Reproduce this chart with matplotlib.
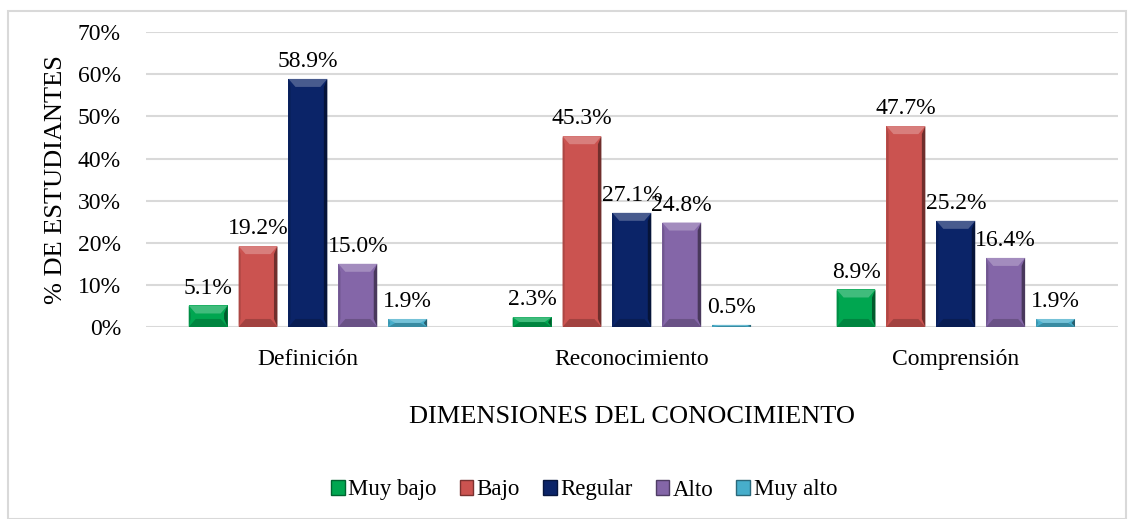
import numpy as np
import matplotlib.pyplot as plt
from matplotlib.patches import Polygon, Rectangle, Patch
from matplotlib.colors import to_rgb

plt.rcParams['font.family'] = ['Liberation Serif', 'DejaVu Serif']

categorias = ['Definición', 'Reconocimiento', 'Comprensión']
niveles = ['Muy bajo', 'Bajo', 'Regular', 'Alto', 'Muy alto']
muy_bajo = [5.1, 2.3, 8.9]
bajo = [19.2, 45.3, 47.7]
regular = [58.9, 27.1, 25.2]
alto = [15.0, 24.8, 16.4]
muy_alto = [1.9, 0.5, 1.9]
series = [muy_bajo, bajo, regular, alto, muy_alto]
colores = ['#00A650', '#CB5350', '#0B2468', '#8466A8', '#47AECB']


def shade(c, f):
    r = np.array(to_rgb(c))
    if f > 1:
        return tuple(r + (1 - r) * (f - 1))
    return tuple(r * f)


fig = plt.figure(figsize=(11.34, 5.19), dpi=100)
fig.patches.append(Rectangle((8 / 1134, 0), 1118 / 1134, 1 - 11 / 519, transform=fig.transFigure,
                             fill=False, edgecolor='#D9D9D9', linewidth=1.5))
ax = fig.add_axes([0.1287, 0.370, 0.857, 0.568])

x = np.arange(len(categorias))
paso = 0.154
ancho = 0.12
ax.set_ylim(0, 70)
ax.set_xlim(-0.5, 2.5)

for i, (vals, col) in enumerate(zip(series, colores)):
    pos = x + (i - 2) * paso
    bars = ax.bar(pos, vals, width=ancho, color=col, zorder=3)
    for b, v in zip(bars, vals):
        x0, w, h = b.get_x(), b.get_width(), b.get_height()
        bx = w * 0.18
        by = min(1.9, h / 2)
        # bisel superior (claro)
        ax.add_patch(Polygon([(x0, h), (x0 + w, h), (x0 + w - bx, h - by), (x0 + bx, h - by)],
                             closed=True, facecolor=shade(col, 1.25), edgecolor='none', zorder=4))
        # bisel inferior (oscuro)
        ax.add_patch(Polygon([(x0, 0), (x0 + w, 0), (x0 + w - bx, by), (x0 + bx, by)],
                             closed=True, facecolor=shade(col, 0.8), edgecolor='none', zorder=4))
        # lado derecho
        ax.add_patch(Polygon([(x0 + w, 0), (x0 + w, h), (x0 + w - bx * 0.5, h - by), (x0 + w - bx * 0.5, by)],
                             closed=True, facecolor=shade(col, 0.55), edgecolor='none', zorder=4))
        # lado izquierdo
        ax.add_patch(Polygon([(x0, 0), (x0, h), (x0 + bx * 0.3, h - by), (x0 + bx * 0.3, by)],
                             closed=True, facecolor=shade(col, 0.85), edgecolor='none', zorder=4))
        ax.annotate(f'{v:.1f}%', (b.get_x() + w / 2, h), xytext=(0, 5), textcoords='offset points',
                    ha='center', va='bottom', fontsize=17, zorder=5)

ax.set_yticks(np.arange(0, 71, 10))
ax.set_yticklabels([f'{t}%' for t in range(0, 71, 10)], fontsize=17)
ax.set_xticks(x)
ax.set_xticklabels(categorias, fontsize=17)
ax.tick_params(axis='x', length=0, pad=16)
ax.tick_params(axis='y', length=0, pad=18)
ax.grid(axis='y', color='#D9D9D9', linewidth=1.5, zorder=0)
for s in ax.spines.values():
    s.set_visible(False)
ax.set_ylabel('% DE ESTUDIANTES', fontsize=19, labelpad=8)
ax.set_xlabel('DIMENSIONES DEL CONOCIMIENTO', fontsize=19, labelpad=26)

handles = [Patch(facecolor=c, edgecolor=shade(c, 0.6)) for c in colores]
fig.legend(handles, niveles, loc='center', bbox_to_anchor=(0.515, 1 - 490 / 519), ncol=5, frameon=False,
           fontsize=16.5, handlelength=0.6, handleheight=0.6, handletextpad=0.15, columnspacing=1.0)

plt.savefig('out.png', dpi=100)
